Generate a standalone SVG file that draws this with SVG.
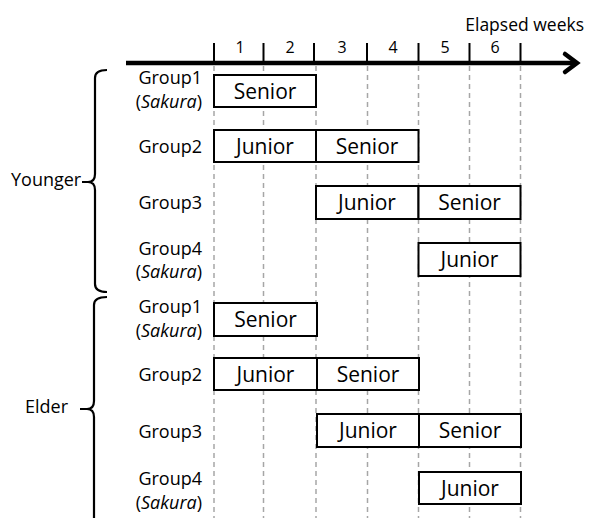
<svg xmlns="http://www.w3.org/2000/svg" width="589" height="518" viewBox="0 0 589 518">
<style>
text{font-family:"Open Sans","Noto Sans","Liberation Sans",sans-serif;fill:#000}
.lbl{font-size:18px;text-anchor:end}
.num{font-size:16px;text-anchor:middle}
.bx{fill:#fff;stroke:#000;stroke-width:2}
.bt{font-size:21px;text-anchor:middle}
.grid{stroke:#a6a6a6;stroke-width:1.5;stroke-dasharray:5 4;fill:none}
.brace{fill:none;stroke:#000;stroke-width:2.2}
</style>
<rect width="589" height="518" fill="#fff"/>
<g id="grid">
<line class="grid" x1="214" y1="66" x2="214" y2="518"/>
<line class="grid" x1="263.5" y1="66" x2="263.5" y2="518"/>
<line class="grid" x1="316" y1="66" x2="316" y2="518"/>
<line class="grid" x1="367.5" y1="66" x2="367.5" y2="518"/>
<line class="grid" x1="418.5" y1="66" x2="418.5" y2="518"/>
<line class="grid" x1="469.5" y1="66" x2="469.5" y2="518"/>
<line class="grid" x1="520.5" y1="66" x2="520.5" y2="518"/>
</g>
<g id="axis">
<line x1="126" y1="63" x2="574" y2="63" stroke="#000" stroke-width="4.5"/>
<polyline points="565,54 577,63 565,72" fill="none" stroke="#000" stroke-width="4.5" stroke-linecap="round" stroke-linejoin="miter"/>
<g stroke="#000" stroke-width="2">
<line x1="214" y1="43" x2="214" y2="63"/>
<line x1="263.5" y1="43" x2="263.5" y2="63"/>
<line x1="314" y1="43" x2="314" y2="63"/>
<line x1="367" y1="43" x2="367" y2="63"/>
<line x1="418.5" y1="43" x2="418.5" y2="63"/>
<line x1="469.5" y1="43" x2="469.5" y2="63"/>
<line x1="520.5" y1="43" x2="520.5" y2="63"/>
</g>
<text class="num" x="240" y="53">1</text>
<text class="num" x="290" y="53">2</text>
<text class="num" x="342" y="53">3</text>
<text class="num" x="393" y="53">4</text>
<text class="num" x="445" y="53">5</text>
<text class="num" x="495" y="53">6</text>
<text x="584" y="31" style="font-size:17.5px;text-anchor:end">Elapsed weeks</text>
</g>
<g id="younger">
<path class="brace" d="M107,70 Q95,70 95,78 L95,174 Q95,182 88,182 L82,182 M88,182 Q95,182 95,190 L95,284 Q95,292 107,292"/>
<text x="11" y="186" style="font-size:18px">Younger</text>
</g>
<g id="elder">
<path class="brace" d="M107,297 Q94,297 94,305 L94,401 Q94,409 87,409 L80,409 M87,409 Q94,409 94,417 L94,518"/>
<text x="25" y="413" style="font-size:18px">Elder</text>
</g>
<g id="y-g1">
<text class="lbl" x="202" y="84">Group1</text>
<text class="lbl" x="202" y="108">(<tspan font-style="italic">Sakura</tspan>)</text>
<rect class="bx" x="214" y="75" width="102" height="32"/>
<text class="bt" x="265" y="98.5">Senior</text>
</g>
<g id="y-g2">
<text class="lbl" x="202" y="152.5">Group2</text>
<rect class="bx" x="214" y="130" width="102" height="32"/>
<text class="bt" x="265" y="153.5">Junior</text>
<rect class="bx" x="316" y="130" width="102.5" height="32"/>
<text class="bt" x="367" y="153.5">Senior</text>
</g>
<g id="y-g3">
<text class="lbl" x="202" y="209">Group3</text>
<rect class="bx" x="316" y="186" width="102.5" height="33"/>
<text class="bt" x="367" y="210">Junior</text>
<rect class="bx" x="418.5" y="186" width="102" height="33"/>
<text class="bt" x="469.5" y="210">Senior</text>
</g>
<g id="y-g4">
<text class="lbl" x="202" y="255">Group4</text>
<text class="lbl" x="202" y="278">(<tspan font-style="italic">Sakura</tspan>)</text>
<rect class="bx" x="418.5" y="243" width="102" height="33"/>
<text class="bt" x="469.5" y="267">Junior</text>
</g>
<g id="e-g1">
<text class="lbl" x="202" y="313">Group1</text>
<text class="lbl" x="202" y="337">(<tspan font-style="italic">Sakura</tspan>)</text>
<rect class="bx" x="214" y="303" width="103" height="33"/>
<text class="bt" x="265.5" y="327">Senior</text>
</g>
<g id="e-g2">
<text class="lbl" x="202" y="381">Group2</text>
<rect class="bx" x="214" y="358" width="103" height="32"/>
<text class="bt" x="265.5" y="381.5">Junior</text>
<rect class="bx" x="317" y="358" width="102" height="32"/>
<text class="bt" x="368" y="381.5">Senior</text>
</g>
<g id="e-g3">
<text class="lbl" x="202" y="438">Group3</text>
<rect class="bx" x="317" y="414" width="102" height="33"/>
<text class="bt" x="368" y="438">Junior</text>
<rect class="bx" x="419" y="414" width="102" height="33"/>
<text class="bt" x="470" y="438">Senior</text>
</g>
<g id="e-g4">
<text class="lbl" x="202" y="485">Group4</text>
<text class="lbl" x="202" y="509">(<tspan font-style="italic">Sakura</tspan>)</text>
<rect class="bx" x="419" y="472" width="102" height="32"/>
<text class="bt" x="470" y="495.5">Junior</text>
</g>
</svg>
